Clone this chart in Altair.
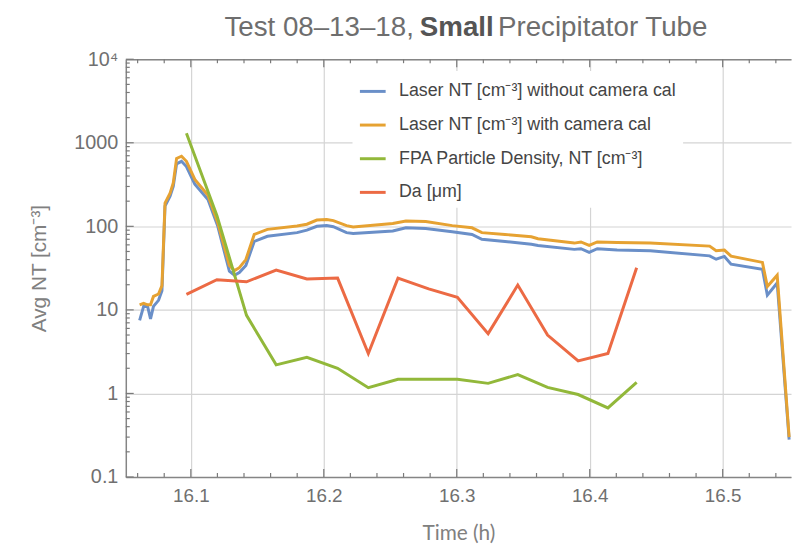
import altair as alt
import pandas as pd

# ---------------- data ----------------
laser_t = [16.0615, 16.0645, 16.0675, 16.0697, 16.0719, 16.0757, 16.0783, 16.0806,
           16.0844, 16.0868, 16.0893, 16.0930, 16.0967, 16.1030, 16.1129, 16.1203,
           16.1290, 16.1328, 16.1365, 16.1414, 16.1477, 16.1576, 16.1799, 16.1873,
           16.1948, 16.2022, 16.2072, 16.2171, 16.2221, 16.2519, 16.2618, 16.2767,
           16.2966, 16.3115, 16.3189, 16.3363, 16.3561, 16.3611, 16.3884, 16.3934,
           16.3996, 16.4057, 16.4206, 16.4455, 16.4902, 16.4951, 16.5013, 16.5063,
           16.5299, 16.5336, 16.5410, 16.5500]
laser_nocal = [7.5, 11, 11, 7.8, 11, 13, 17, 175,
               230, 300, 560, 600, 520, 320, 210, 100,
               29, 26, 28, 34, 66, 76, 84, 90,
               100, 102, 99, 84, 82, 88, 96, 94,
               86, 80, 70, 66, 61, 59, 53, 54,
               48.7, 54, 52, 51, 44.3, 40.4, 43.6, 35.2,
               30.7, 15, 21, 0.28]
laser_cal = [11.5, 12, 11.5, 11.5, 14.5, 15.5, 19.5, 190,
             250, 330, 650, 690, 600, 365, 235, 110,
             34, 29.5, 32, 40, 80, 92, 101, 106,
             119, 121, 117, 102, 98, 108, 116, 114,
             102, 96, 84, 80, 75, 71, 63, 65,
             59, 65, 64, 63, 58, 51, 52, 44,
             37, 19, 26, 0.3]

fpa_t = [16.0967, 16.1196, 16.1419, 16.1642, 16.1873, 16.2104, 16.2335, 16.2558,
         16.2789, 16.3005, 16.3236, 16.3459, 16.3683, 16.3913, 16.4137, 16.4353]
fpa_nt = [1300, 135, 8.6, 2.2, 2.7, 2.0, 1.17, 1.48,
          1.48, 1.48, 1.32, 1.68, 1.18, 0.97, 0.67, 1.36]
da_um = [15.3, 23, 21.7, 30, 23.4, 24, 3.0, 24,
         17.8, 14.1, 5.2, 19.8, 5.0, 2.45, 3.0, 32]

series_names = ["Laser NT [cm⁻³] without camera cal",
                "Laser NT [cm⁻³] with camera cal",
                "FPA Particle Density, NT [cm⁻³]",
                "Da [μm]"]
series_colors = ["#6a8fc8", "#e6a232", "#92b83a", "#ec6a44"]

x_major = [16.1, 16.2, 16.3, 16.4, 16.5]
x_minor = [16.06, 16.08, 16.12, 16.14, 16.16, 16.18, 16.22, 16.24, 16.26, 16.28,
           16.32, 16.34, 16.36, 16.38, 16.42, 16.44, 16.46, 16.48, 16.52, 16.54]
y_major = [0.1, 1, 10, 100, 1000, 10000]
y_minor = [m * d for d in [0.1, 1, 10, 100, 1000] for m in range(2, 10)]

title_a = "Test 08–13–18,"
title_b = "Small"
title_c = "Precipitator Tube"
x_title = "Time (h)"
y_title = "Avg NT [cm⁻³]"

# ---------------- table ----------------
rows = []
for t, v in zip(laser_t, laser_nocal):
    rows.append({"t": t, "v": v, "series": series_names[0]})
for t, v in zip(laser_t, laser_cal):
    rows.append({"t": t, "v": v, "series": series_names[1]})
for t, v in zip(fpa_t, fpa_nt):
    rows.append({"t": t, "v": v, "series": series_names[2]})
for t, v in zip(fpa_t, da_um):
    rows.append({"t": t, "v": v, "series": series_names[3]})
df = pd.DataFrame(rows)

W, H = 672, 422
XDOM = [16.0511, 16.5514]
YDOM = [0.1, 10000]
xs = alt.Scale(domain=XDOM, nice=False, zero=False)
ys = alt.Scale(type="log", domain=YDOM, nice=False)

FONT = "Liberation Sans"
FRAME = "#858585"
TICK = "#7a7a7a"
GRID = "#d4d4d4"
LABEL = "#707070"

color_enc = alt.Color(
    "series:N",
    scale=alt.Scale(domain=series_names, range=series_colors),
    legend=alt.Legend(orient="none", legendX=229, legendY=12, title=None,
                      fillColor="white", padding=6, symbolType="stroke",
                      symbolSize=676, symbolStrokeWidth=3, labelFontSize=18,
                      labelFont=FONT, labelColor="#454545", labelOffset=12,
                      rowPadding=10, labelLimit=500),
)

x_main_axis = alt.Axis(orient="bottom", values=x_major, format=".1f", grid=True,
                       gridColor=GRID, gridWidth=1.2, ticks=False, domain=True,
                       domainColor=FRAME, domainWidth=1.5, labelFont=FONT,
                       labelFontSize=19, labelColor=LABEL, labelPadding=10,
                       title=x_title, titleFont="Lato", titleFontSize=21,
                       titleFontWeight="normal", titleColor="#808080",
                       titleX=336, titleY=63, titleBaseline="alphabetic")
y_main_axis = alt.Axis(orient="left", values=y_major,
                       labelExpr="datum.value >= 9999 ? '10⁴' : toString(datum.value)",
                       grid=True, gridColor=GRID, gridWidth=1.2, ticks=False,
                       domain=True, domainColor=FRAME, domainWidth=1.5,
                       labelFont=FONT, labelFontSize=20, labelColor=LABEL,
                       labelPadding=8, title=y_title, titleFont=FONT,
                       titleFontSize=21, titleFontWeight="normal",
                       titleColor="#808080", titleX=-87, titleY=211,
                       titleBaseline="middle", titleAngle=270)

layers = []
for i, name in enumerate(series_names):
    xa = x_main_axis if i == 0 else None
    ya = y_main_axis if i == 0 else None
    layers.append(
        alt.Chart(df).transform_filter(alt.datum.series == name)
        .mark_line(strokeWidth=3, clip=True)
        .encode(x=alt.X("t:Q", scale=xs, axis=xa),
                y=alt.Y("v:Q", scale=ys, axis=ya),
                color=color_enc)
    )

# inward frame ticks
xmaj_df = pd.DataFrame({"tick_t": x_major})
xmin_df = pd.DataFrame({"tick_t": x_minor})
ymaj_df = pd.DataFrame({"tick_v": y_major})
ymin_df = pd.DataFrame({"tick_v": y_minor})


def x_ticks(d, size, top):
    y0, y1 = (0, size) if top else (H - size, H)
    return alt.Chart(d).mark_rule(color=TICK, strokeWidth=1.2).encode(
        x=alt.X("tick_t:Q", scale=xs, axis=None),
        y=alt.value(y0), y2=alt.value(y1))


def y_ticks(d, size):
    return alt.Chart(d).mark_rule(color=TICK, strokeWidth=1.2).encode(
        y=alt.Y("tick_v:Q", scale=ys, axis=None),
        x=alt.value(0), x2=alt.value(size))


layers += [x_ticks(xmaj_df, 8, True), x_ticks(xmin_df, 4, True),
           x_ticks(xmaj_df, 8, False), x_ticks(xmin_df, 4, False),
           y_ticks(ymaj_df, 8), y_ticks(ymin_df, 4)]

# top frame line
layers.append(
    alt.Chart(df).mark_point(opacity=0).encode(
        x=alt.X("t:Q", scale=xs,
                axis=alt.Axis(orient="top", values=x_major, ticks=False, domain=True,
                              domainColor=FRAME, domainWidth=1.5, labels=False,
                              grid=False, title=None)),
        y=alt.Y("v:Q", scale=ys, axis=None))
)

# title pieces (plain + bold + plain)
tdf = pd.DataFrame({"a": [title_a], "b": [title_b], "c": [title_c]})
layers.append(alt.Chart(tdf).mark_text(font=FONT, fontSize=28, color="#6e6e6e",
                                       align="right", baseline="alphabetic")
              .encode(text="a:N", x=alt.value(291), y=alt.value(-23)))
layers.append(alt.Chart(tdf).mark_text(font=FONT, fontSize=28, color="#555555",
                                       fontWeight="bold", align="left", baseline="alphabetic")
              .encode(text="b:N", x=alt.value(297), y=alt.value(-23)))
layers.append(alt.Chart(tdf).mark_text(font=FONT, fontSize=28, color="#6e6e6e",
                                       align="left", baseline="alphabetic")
              .encode(text="c:N", x=alt.value(376), y=alt.value(-23)))

chart = (
    alt.layer(*layers)
    .resolve_scale(x="shared", y="shared", color="shared")
    .resolve_axis(x="independent", y="independent")
    .properties(width=W, height=H,
                padding={"left": 119, "top": 49, "right": 1, "bottom": 70},
                autosize=alt.AutoSizeParams(type="none"),
                background="white")
    .configure_view(strokeWidth=0)
)

chart.save("out.html", embed_options={"renderer": "svg", "actions": False})
